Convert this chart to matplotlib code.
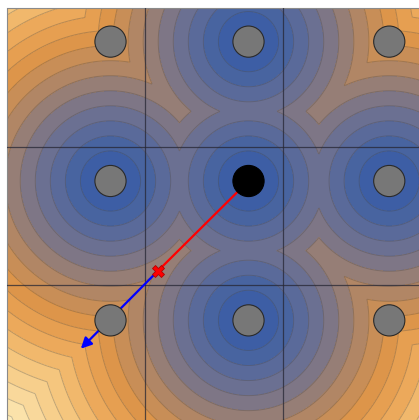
import numpy as np
import matplotlib
matplotlib.use("Agg")
import matplotlib.pyplot as plt
from matplotlib.colors import LinearSegmentedColormap
from matplotlib.patches import Circle

# ---- data ----
# wells (sources of the distance field)
well_x = [1.75, 0.75, 1.75, 2.77, 1.75]
well_y = [2.76, 1.75, 1.75, 1.75, 0.74]
# lattice sites (gray discs)
site_x = [0.75, 1.75, 2.77, 0.75, 2.77, 0.75, 1.75, 2.77]
site_y = [2.76, 2.76, 2.76, 1.75, 1.75, 0.74, 0.74, 0.74]
# current particle (black disc), intermediate point (red X), arrow tip
current_xy = (1.75, 1.75)
mid_xy = (1.095, 1.10)
target_xy = (0.535, 0.535)
grid_lines = [1, 2]
contour_step = 0.109
site_radius = 0.113

# ---- figure ----
W, H, dpi = 419, 420, 100
fig = plt.figure(figsize=(W / dpi, H / dpi), dpi=dpi)
unit = 138.0
left_px, top_px = 7.0, 8.5
ax = fig.add_axes([left_px / W, (H - top_px - 3 * unit) / H, 3 * unit / W, 3 * unit / H])
ax.set_xlim(0, 3)
ax.set_ylim(0, 3)
ax.set_aspect('auto')

xs = np.linspace(0, 3, 700)
ys = np.linspace(0, 3, 700)
X, Y = np.meshgrid(xs, ys)
D = np.min([np.hypot(X - wx, Y - wy) for wx, wy in zip(well_x, well_y)], axis=0)

stops = [
    (0.00, (55, 88, 168)),
    (0.20, (62, 96, 164)),
    (0.45, (100, 110, 150)),
    (0.65, (135, 121, 128)),
    (0.85, (185, 137, 96)),
    (1.05, (224, 150, 72)),
    (1.25, (236, 168, 90)),
    (1.45, (245, 196, 122)),
    (1.95, (254, 238, 190)),
]
vmax = 1.95
cmap = LinearSegmentedColormap.from_list(
    'mma', [(d / vmax, tuple(c / 255 for c in col)) for d, col in stops])

levels = np.arange(0, 2.3, contour_step)
ax.contourf(X, Y, D, levels=levels, cmap=cmap, vmin=0, vmax=vmax, zorder=1)
ax.contour(X, Y, D, levels=levels[1:], colors=[(0.25, 0.25, 0.25, 0.3)],
           linewidths=0.7, zorder=2)

for g in grid_lines:
    ax.axvline(g, color=(0.15, 0.15, 0.2, 0.75), lw=0.9, zorder=3)
    ax.axhline(g, color=(0.15, 0.15, 0.2, 0.75), lw=0.9, zorder=3)

# path: red segment then blue arrow
ax.plot([current_xy[0], mid_xy[0]], [current_xy[1], mid_xy[1]], color='red', lw=1.6, zorder=4)
ax.annotate('', xy=target_xy, xytext=mid_xy,
            arrowprops=dict(arrowstyle='-|>', color='blue', lw=1.6,
                            mutation_scale=16, shrinkA=0, shrinkB=0),
            zorder=4)

for sx, sy in zip(site_x, site_y):
    ax.add_patch(Circle((sx, sy), site_radius, facecolor='#777777',
                        edgecolor='#2a2a2a', lw=0.8, zorder=5))
ax.add_patch(Circle(current_xy, site_radius, facecolor='black',
                    edgecolor='black', lw=0.8, zorder=5))

ax.plot([mid_xy[0]], [mid_xy[1]], marker='X', color='red', markersize=9,
        markeredgecolor='#b00000', markeredgewidth=0.6, zorder=6)

ax.set_xticks([])
ax.set_yticks([])
for s in ax.spines.values():
    s.set_color('#8a8a8a')
    s.set_linewidth(0.8)

fig.savefig('out.png', dpi=dpi)
